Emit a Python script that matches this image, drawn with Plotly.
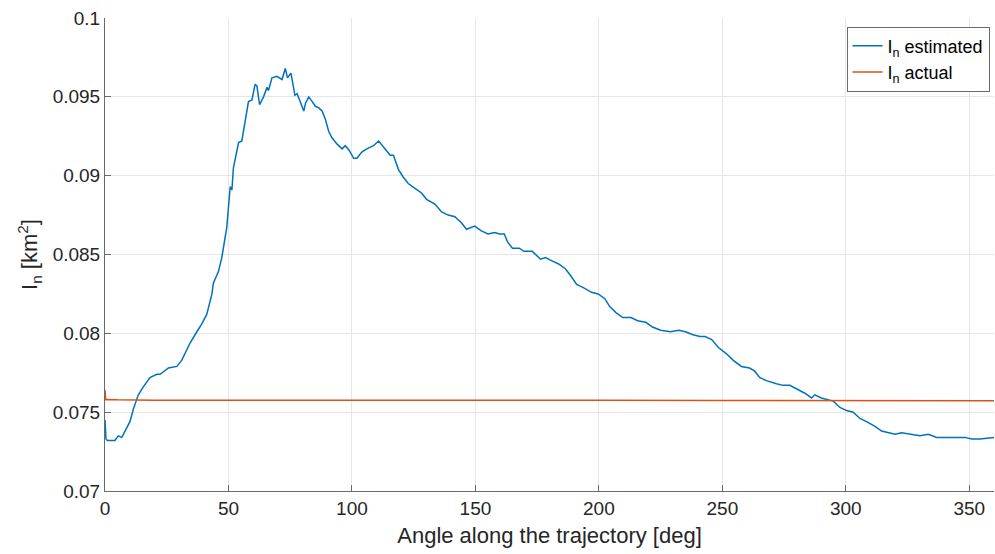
import plotly.graph_objects as go

# Angle along the trajectory [deg] and estimated I_n [km^2]
angle_est = [0, 0.4, 1, 4, 5.4, 6.8, 8.1, 10.1, 11.5, 13.5, 15.5, 18.2, 21, 22.3, 25.7, 29.1, 31.1,
             34.5, 37.2, 39.2, 41.2, 43.3, 43.9, 45.9, 47.3, 49.3, 50.7, 51.4, 52, 53.1, 54.1, 55.4,
             56.8, 58.1, 59.5, 60.8, 61.5, 62.6, 64.2, 65.6, 66.2, 67.6, 69.6, 71.7, 73, 73.9, 75.3,
             76.9, 77.8, 79.2, 80.5, 81.2, 82.5, 83.9, 85.2, 86.6, 87.9, 89.2, 90.6, 91.9, 94, 96,
             97.3, 98.9, 100.7, 102, 104, 106, 108.7, 110.8, 111.8, 113.4, 115.5, 116.8, 118.8,
             120.8, 122.8, 125.5, 128.2, 130.2, 133.6, 136.3, 139, 141.7, 144.4, 146.4, 149.7,
             152.4, 155.1, 157.8, 159.8, 161.7, 163, 165, 167.7, 169.7, 173, 176.4, 178.4, 181,
             183.7, 186.4, 188.4, 191, 193.7, 197, 199.7, 202.4, 204.4, 207, 209.7, 213, 215.7,
             219, 221.7, 225, 229, 232.4, 235, 238.4, 241, 243, 245.7, 248.4, 251.7, 254.3, 257.7,
             261, 263.1, 265.1, 267.8, 271.9, 274.6, 277.3, 280, 283.4, 286.1, 287.4, 290.1,
             292.8, 294.9, 297.6, 300.3, 303, 305.7, 308.4, 311.8, 314.5, 317.2, 319.9, 322.6,
             325.9, 330, 333.4, 336.8, 340.8, 344.9, 348.2, 351, 354.3, 360]
in_est = [0.0745, 0.0733, 0.0732, 0.0732, 0.0735, 0.0734, 0.0738, 0.0744, 0.0752, 0.0761, 0.0766,
          0.0772, 0.0774, 0.0774, 0.0778, 0.0779, 0.0783, 0.0794, 0.0801, 0.0806, 0.0812, 0.0825,
          0.0832, 0.0839, 0.0848, 0.0867, 0.0893, 0.0891, 0.0905, 0.0914, 0.0921, 0.0922, 0.0935,
          0.0947, 0.0948, 0.0958, 0.0957, 0.0945, 0.0950, 0.0956, 0.0954, 0.0962, 0.0963, 0.0961,
          0.0968, 0.0962, 0.0965, 0.0951, 0.0952, 0.0946, 0.0941, 0.0946, 0.0950, 0.0947, 0.0944,
          0.0943, 0.0941, 0.0936, 0.0928, 0.0924, 0.0920, 0.0917, 0.0919, 0.0916, 0.0911, 0.0911,
          0.0915, 0.0917, 0.0919, 0.0922, 0.0920, 0.0917, 0.0913, 0.0913, 0.0904, 0.0899, 0.0895,
          0.0892, 0.0889, 0.0885, 0.0882, 0.0877, 0.0875, 0.0874, 0.0870, 0.0866, 0.0868, 0.0865,
          0.0863, 0.0864, 0.0863, 0.0863, 0.0858, 0.0854, 0.0854, 0.0852, 0.0852, 0.0847, 0.0848,
          0.0846, 0.0844, 0.0841, 0.0837, 0.0831, 0.0829, 0.0826, 0.0825, 0.0822, 0.0817, 0.0813,
          0.0810, 0.0810, 0.0808, 0.0807, 0.0804, 0.0802, 0.0801, 0.0802, 0.0801, 0.0799, 0.0798,
          0.0798, 0.0796, 0.0791, 0.0787, 0.0783, 0.0779, 0.0778, 0.0776, 0.0772, 0.0770, 0.0768,
          0.0767, 0.0767, 0.0765, 0.0762, 0.0759, 0.0761, 0.0759, 0.0758, 0.0757, 0.0753, 0.0751,
          0.0750, 0.0746, 0.0744, 0.0741, 0.0738, 0.0737, 0.0736, 0.0737, 0.0736, 0.0735, 0.0736,
          0.0734, 0.0734, 0.0734, 0.0734, 0.0733, 0.0733, 0.0734]

# Actual I_n [km^2]
angle_act = [0, 0.3, 0.8, 5, 20, 60, 100, 150, 200, 250, 300, 360]
in_act = [0.0764, 0.0758, 0.07581, 0.07578, 0.07575, 0.07574, 0.07576, 0.07576, 0.07575, 0.07574,
          0.07573, 0.07572]

x_ticks = [0, 50, 100, 150, 200, 250, 300, 350]
y_ticks = [0.07, 0.075, 0.08, 0.085, 0.09, 0.095, 0.1]
y_tick_text = ["0.07", "0.075", "0.08", "0.085", "0.09", "0.095", "0.1"]

FONT = "Liberation Sans, Arial, sans-serif"

fig = go.Figure()
fig.add_trace(go.Scatter(x=angle_est, y=in_est, mode="lines", name="I<sub>n</sub> estimated",
                         line=dict(color="#0072BD", width=1.5)))
fig.add_trace(go.Scatter(x=angle_act, y=in_act, mode="lines", name="I<sub>n</sub> actual",
                         line=dict(color="#D95319", width=1.5)))

axis_common = dict(showgrid=True, gridcolor="#e6e6e6", gridwidth=1, zeroline=False,
                   showline=True, linecolor="#6a6a6a", linewidth=1,
                   ticks="inside", ticklen=6, tickcolor="#6a6a6a",
                   tickfont=dict(family=FONT, size=19, color="#262626"))

fig.update_layout(
    width=995, height=554,
    margin=dict(l=105, r=1, t=18, b=63),
    paper_bgcolor="white", plot_bgcolor="white",
    font=dict(family=FONT, color="#262626"),
    xaxis=dict(range=[0, 360], tickvals=x_ticks,
               title=dict(text="Angle along the trajectory [deg]", font=dict(family=FONT, size=22),
                          standoff=9),
               **axis_common),
    yaxis=dict(range=[0.07, 0.1], tickvals=y_ticks, ticktext=y_tick_text,
               title=dict(text="I<sub>n</sub> [km<sup>2</sup>]", font=dict(family=FONT, size=22),
                          standoff=8),
               **axis_common),
    legend=dict(x=0.995, y=0.982, xanchor="right", yanchor="top",
                bgcolor="white", bordercolor="#6a6a6a", borderwidth=1,
                font=dict(family=FONT, size=18, color="#000000"),
                itemwidth=30, tracegroupgap=0),
    showlegend=True,
)

fig.write_html("out.html")
